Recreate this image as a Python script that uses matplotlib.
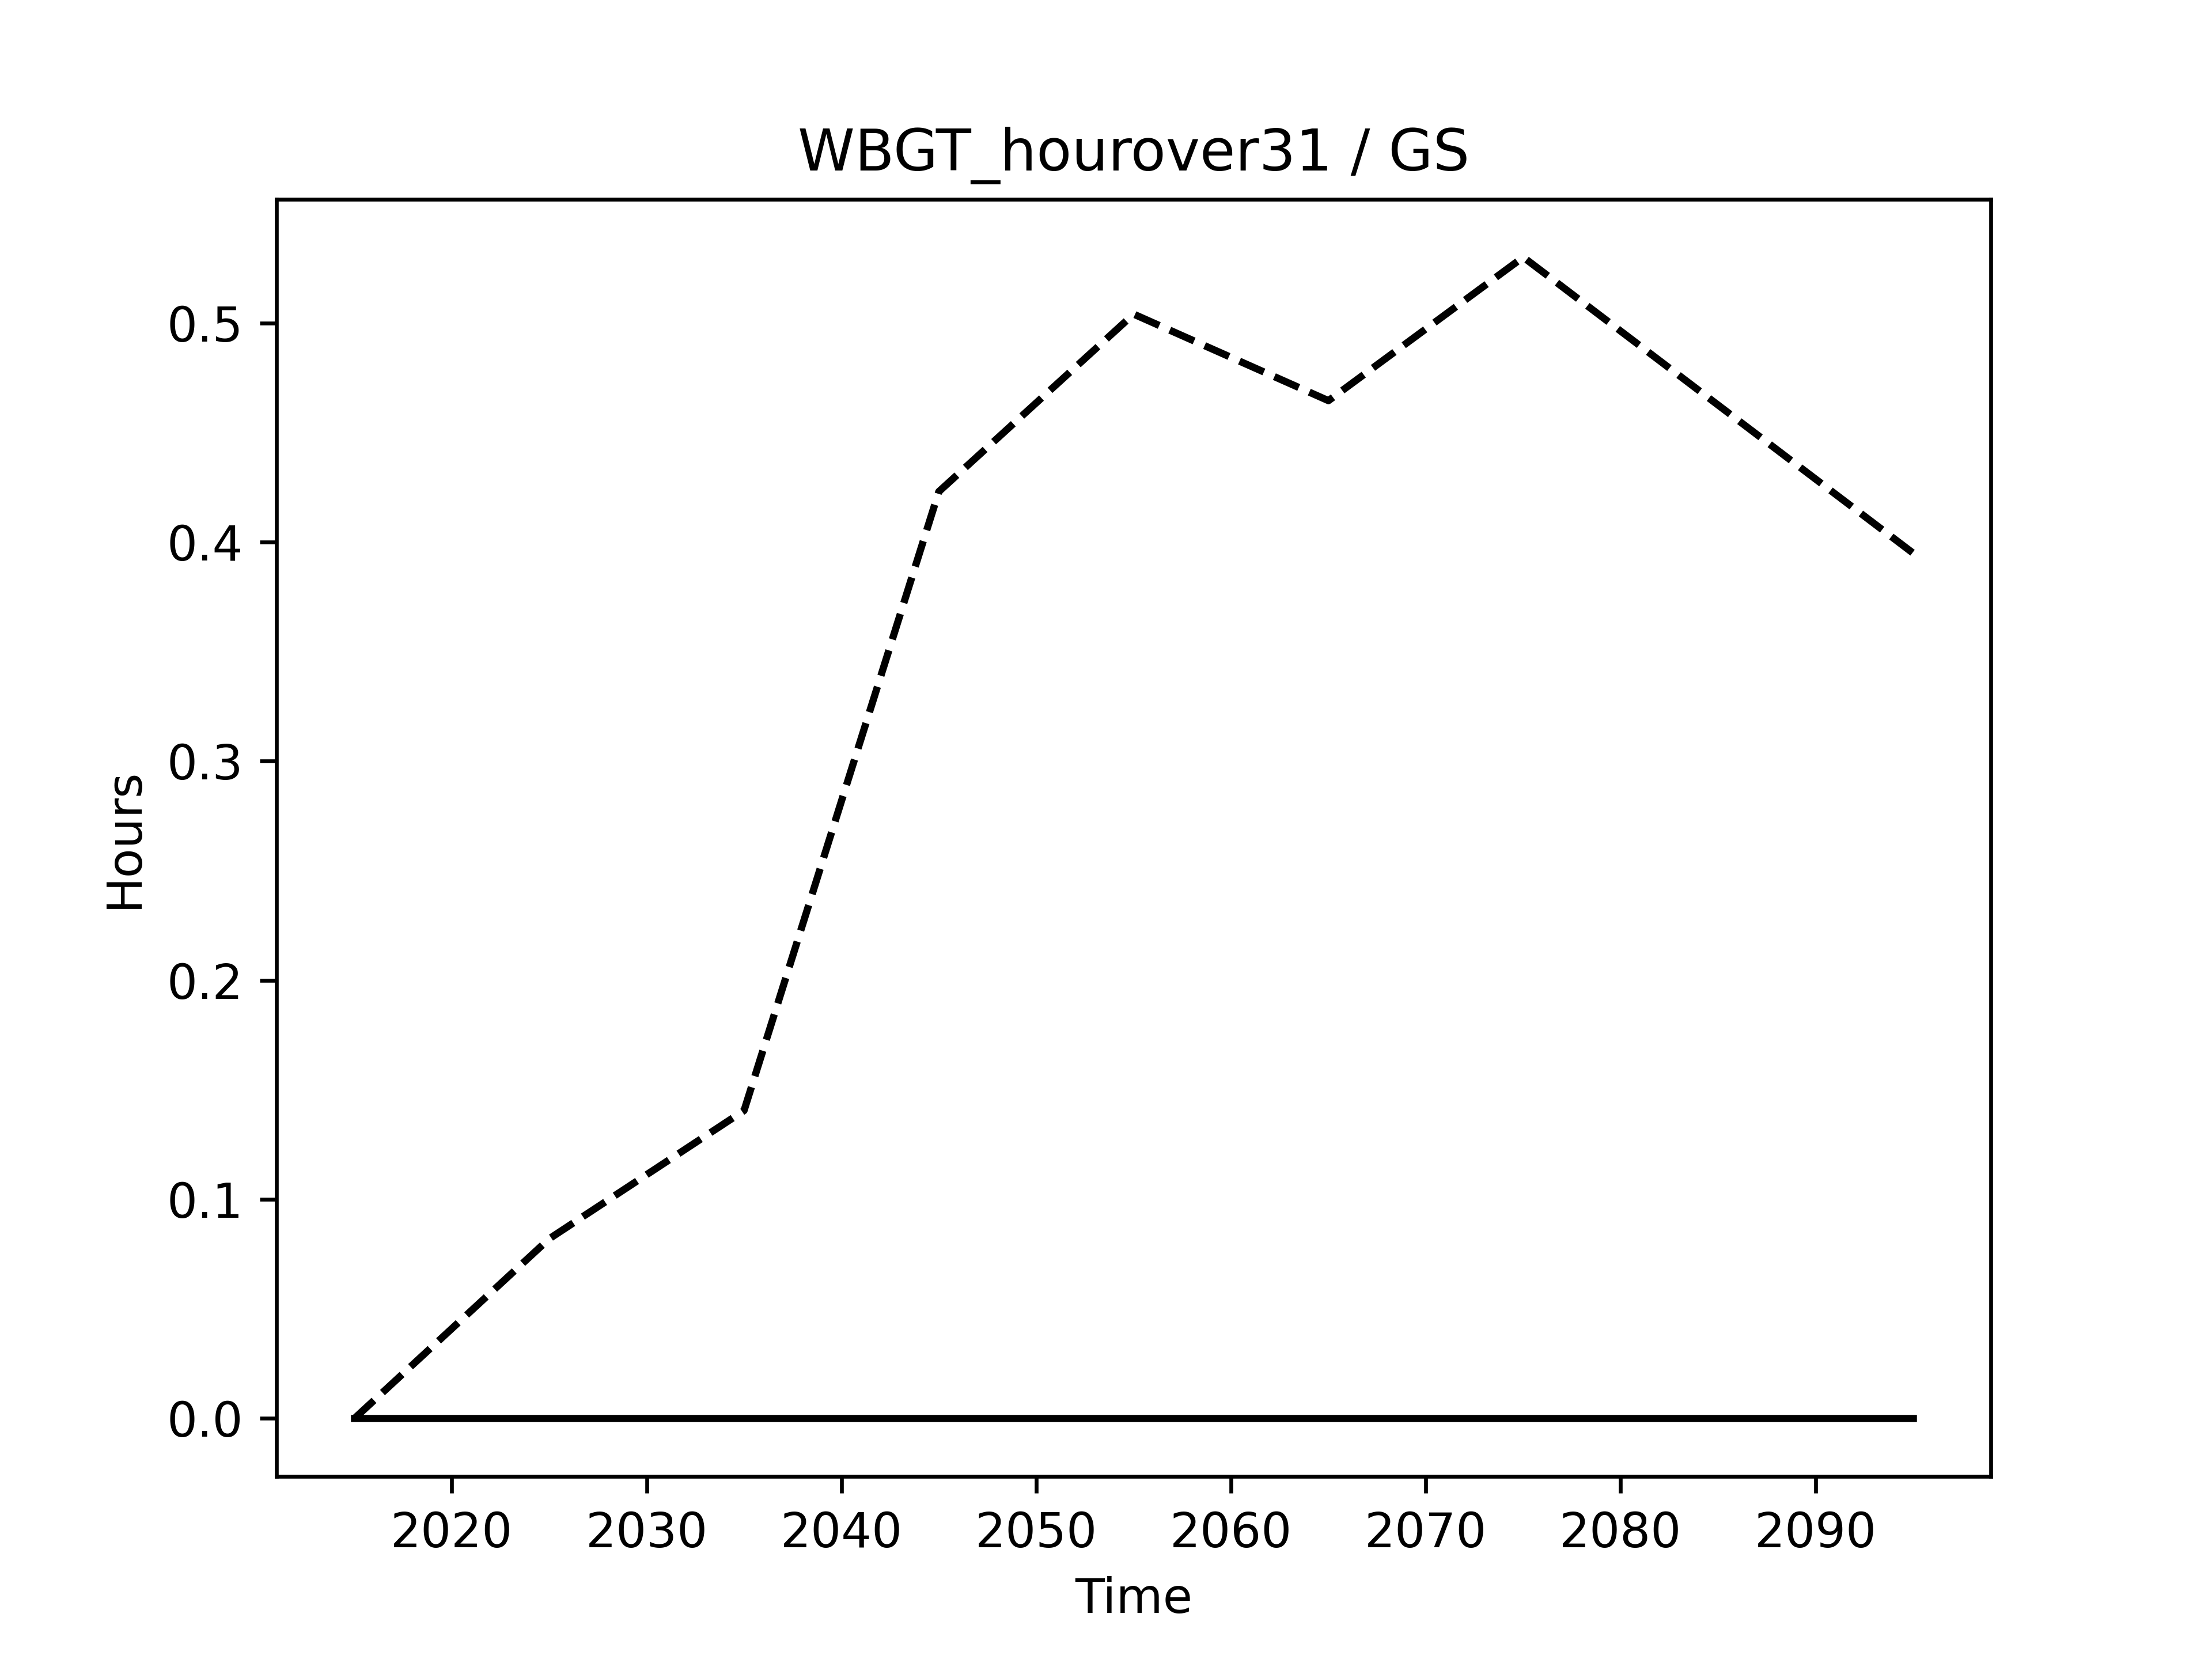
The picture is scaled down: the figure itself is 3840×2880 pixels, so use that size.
import matplotlib
matplotlib.use("Agg")
import matplotlib.pyplot as plt

years = [2015, 2025, 2035, 2045, 2055, 2065, 2075, 2085, 2095]
future = [0.0, 0.082, 0.1405, 0.423, 0.504, 0.4645, 0.530, 0.4625, 0.395]
baseline = [0.0, 0.0, 0.0, 0.0, 0.0, 0.0, 0.0, 0.0, 0.0]


def main():
    fig, ax = plt.subplots(figsize=(6.4, 4.8), dpi=600)

    ax.plot(years, future, color="black", linestyle="--")
    ax.plot(years, baseline, color="black", linestyle="-")

    ax.set_title("WBGT_hourover31 / GS")
    ax.set_xlabel("Time")
    ax.set_ylabel("Hours")

    fig.savefig("out.png", dpi=600)


if __name__ == "__main__":
    main()
